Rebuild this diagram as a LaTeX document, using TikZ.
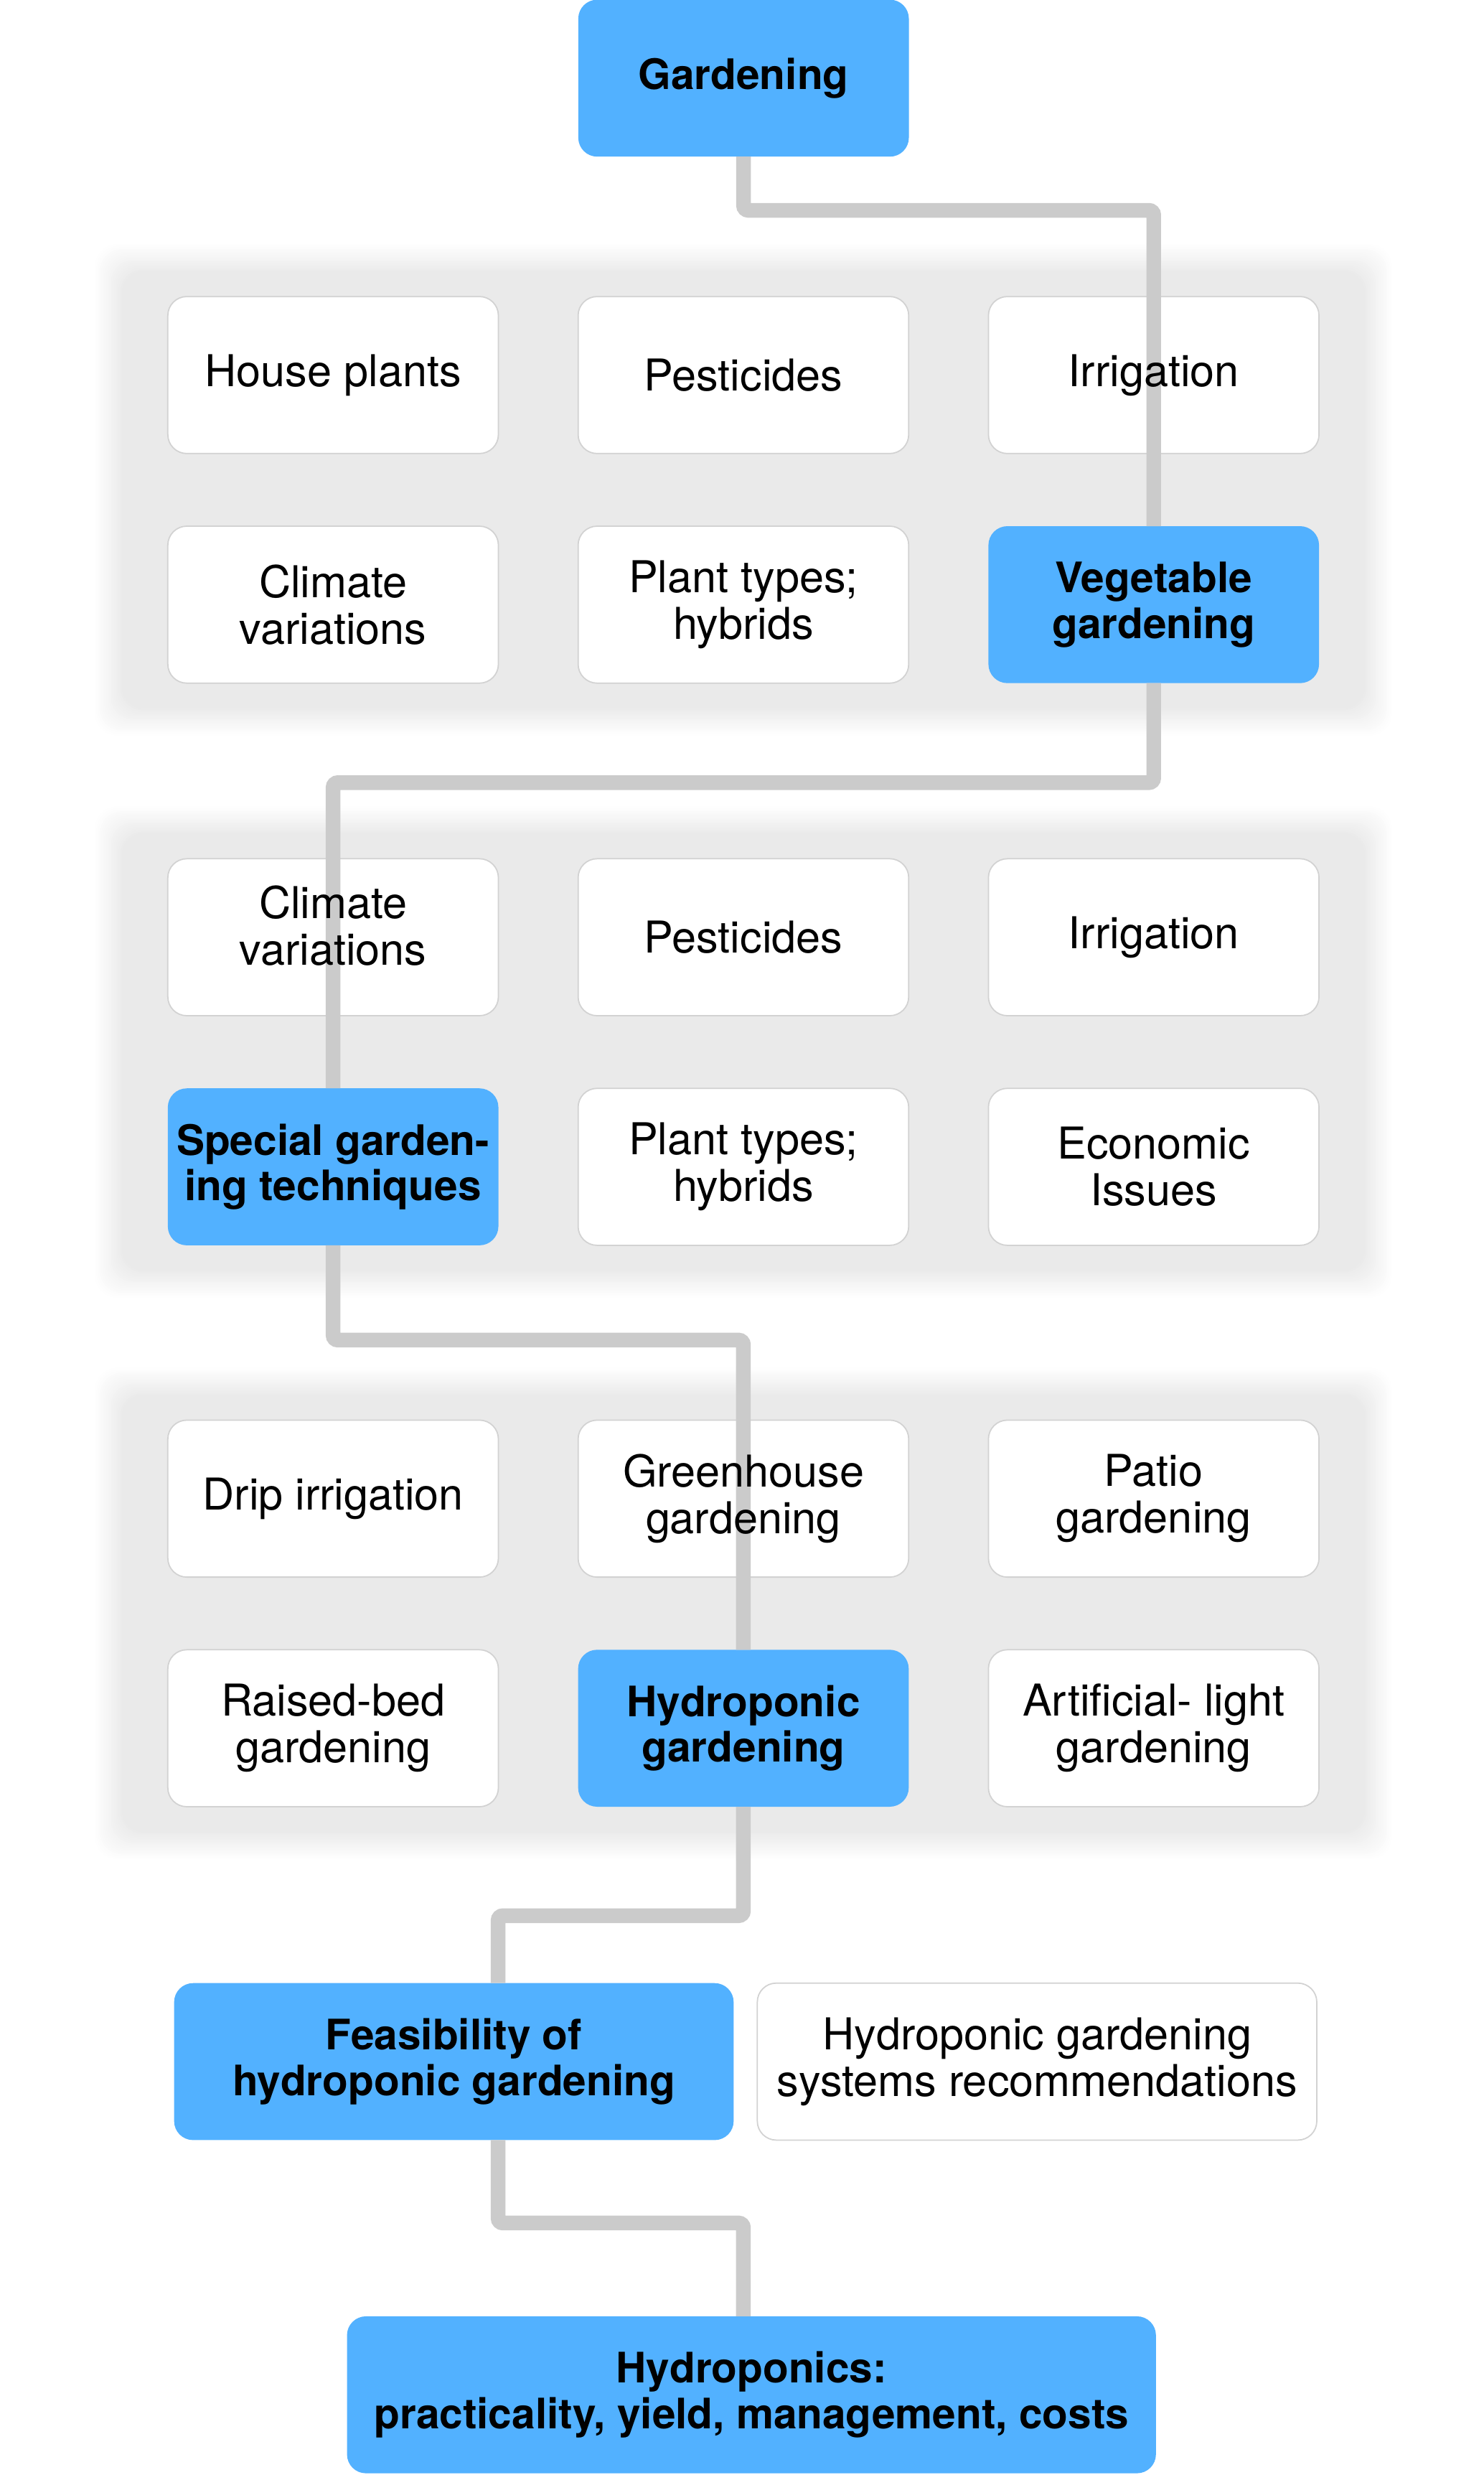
\documentclass[tikz,border=0pt]{standalone}
\usepackage{fontspec}
\setmainfont{TeX Gyre Heros}
\usetikzlibrary{positioning}
\definecolor{keyblue}{HTML}{52B1FF}
\definecolor{panelgray}{HTML}{EAEAEA}
\definecolor{linkgray}{HTML}{CBCBCB}
\definecolor{rimgray}{HTML}{D2D2D2}
\pgfdeclarelayer{panel}
\pgfdeclarelayer{card}
\pgfdeclarelayer{link}
\pgfsetlayers{panel,card,link,main}

\begin{document}
\begin{tikzpicture}[x=1pt, y=-1pt]
	\tikzset {node distance=46pt and 50.5pt,
		topic/.style={minimum width=209pt, minimum height=99pt, inner sep=0pt, align=center, font=\fontsize{27.8}{29.5}\selectfont},
		keytopic/.style={topic, font=\fontsize{26.6}{29}\selectfont\bfseries},
		cardbox/.style={fill=white, draw=rimgray, line width=0.8pt, rounded corners=12pt},
		keybox/.style={fill=keyblue, rounded corners=12pt},
		linkline/.style={draw=linkgray, line width=9.3pt, rounded corners=3pt} }
	\useasboundingbox (0,0) rectangle (940,1567.3);

	\node[keytopic] (garden) at (471,49.5) {Gardening};
	% first panel
	\node[topic] (house) at (211,237.5) {House plants};
	\node[topic, right=of house] (pest1) {Pesticides};
	\node[topic, right=of pest1] (irrig1) {Irrigation};
	\node[topic, below=of house] (climate1) {Climate\\variations};
	\node[topic, below=of pest1] (types1) {Plant types;\\hybrids};
	\node[keytopic, below=of irrig1] (veg) {Vegetable\\gardening};
	% second panel
	\node[topic, text depth=15pt] (climate2) at (211,593.5) {Climate\\variations};
	\node[topic, right=of climate2] (pest2) {Pesticides};
	\node[topic, right=of pest2] (irrig2) {Irrigation};
	\node[keytopic, below=of climate2] (special) {Special garden-\\ing techniques};
	\node[topic, below=of pest2] (types2) {Plant types;\\hybrids};
	\node[topic, below=of irrig2] (econ) {Economic\\Issues};
	% third panel
	\node[topic] (drip) at (211,949) {Drip irrigation};
	\node[topic, right=of drip] (green) {Greenhouse\\gardening};
	\node[topic, right=of green] (patio) {Patio\\gardening};
	\node[topic, below=of drip] (raised) {Raised-bed\\gardening};
	\node[keytopic, below=of green] (hydro) {Hydroponic\\gardening};
	\node[topic, below=of patio] (light) {Artificial- light\\gardening};
	% bottom
	\node[keytopic, minimum width=354pt] (feas) at (287.5,1305.5) {Feasibility of\\hydroponic gardening};
	\node[topic, minimum width=354pt, right=15pt of feas] (recom) {Hydroponic gardening\\systems recommendations};
	\node[keytopic, minimum width=512pt] (final) at (476,1516.5) {Hydroponics:\\practicality, yield, management, costs};

	\begin{pgfonlayer}{card}
		\foreach \n in {house,pest1,irrig1,climate1,types1,climate2,pest2,irrig2,types2,econ,drip,green,patio,raised,light,recom}
			\path[cardbox] (\n.north west) rectangle (\n.south east);
		\foreach \n in {garden,veg,special,hydro,feas,final}
			\path[keybox] (\n.north west) rectangle (\n.south east);
	\end{pgfonlayer}

	% soft grey panels
	\begin{pgfonlayer}{panel}
		\foreach \a/\b in {house/veg, climate2/econ, drip/light}
			\foreach \r in {9,...,-9} {
				\pgfmathtruncatemacro\tone{100*(9-\r)/18}
				\pgfmathsetmacro\dx{38+\r}
				\pgfmathsetmacro\dy{25+\r}
				\fill[panelgray!\tone!white, rounded corners=14pt]
					([shift={(-\dx,-\dy)}]\a.north west) rectangle ([shift={(\dx,\dy)}]\b.south east);
			}
	\end{pgfonlayer}

	\begin{pgfonlayer}{link}
		\draw[linkline] (garden.south) -- ++(0,34) -| (veg.north);
		\draw[linkline] (veg.south) -- ++(0,63) -| (special.north);
		\draw[linkline] (special.south) -- ++(0,60) -| (hydro.north);
		\draw[linkline] (hydro.south) -- ++(0,69) -| ([xshift=28pt]feas.north);
		\draw[linkline] ([xshift=28pt]feas.south) -- ++(0,52.5) -| (final.north -| hydro.south);
	\end{pgfonlayer}
\end{tikzpicture}
\end{document}
